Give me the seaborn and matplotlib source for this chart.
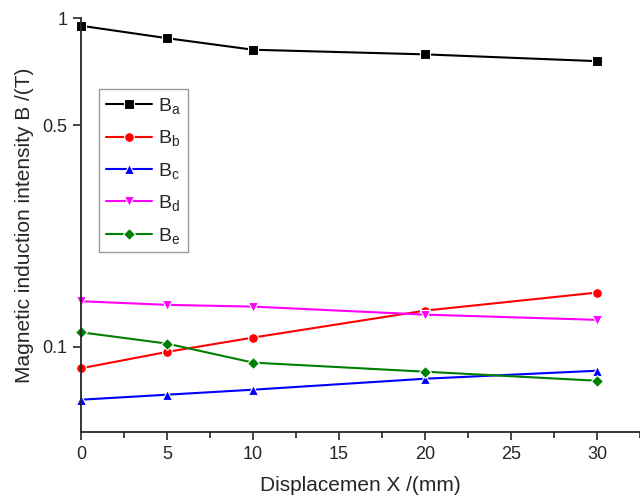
import numpy as np
import pandas as pd
import matplotlib
matplotlib.use("Agg")
import matplotlib.pyplot as plt
import seaborn as sns
from matplotlib.ticker import FixedLocator, FixedFormatter, MultipleLocator

sns.set_style("ticks")
plt.rcParams['font.family'] = ['Liberation Sans', 'DejaVu Sans']
plt.rcParams['mathtext.default'] = 'regular'

x_mm = [0, 5, 10, 20, 30]
B_a = [0.954, 0.881, 0.818, 0.794, 0.760]
B_b = [0.0828, 0.0956, 0.1079, 0.1342, 0.1544]
B_c = [0.0616, 0.0647, 0.0679, 0.0753, 0.0810]
B_d = [0.1444, 0.1404, 0.1385, 0.1300, 0.1247]
B_e = [0.1127, 0.1026, 0.0871, 0.0803, 0.0739]
series_names = ['$B_a$', '$B_b$', '$B_c$', '$B_d$', '$B_e$']
colors = ['#000000', '#ff0000', '#0000ff', '#ff00ff', '#008000']
markers = ['s', 'o', '^', 'v', 'D']
y_ticks = [0.1, 0.5, 1]
y_ticklabels = ['0.1', '0.5', '1']

rows = []
for name, vals in zip(series_names, [B_a, B_b, B_c, B_d, B_e]):
    for xv, yv in zip(x_mm, vals):
        rows.append({'x': xv, 'B': yv, 'series': name})
df = pd.DataFrame(rows)

fig = plt.figure(figsize=(6.4, 4.98), dpi=100)
ax = fig.add_axes([0.1266, 0.1331, 0.8734, 0.830])

C = 0.038
ax.set_yscale('function', functions=(lambda v: np.log(np.clip(v + C, 1e-9, None)),
                                     lambda u: np.exp(u) - C))

sns.lineplot(data=df, x='x', y='B', hue='series', style='series',
             palette=dict(zip(series_names, colors)),
             markers=dict(zip(series_names, markers)),
             dashes=False, linewidth=1.5, markersize=7,
             markeredgewidth=0.8, ax=ax, clip_on=False)
for line, m in zip(ax.get_lines(), markers):
    if m == 'D':
        line.set_markersize(6.5)

ax.set_xlim(0, 32.5)
ax.set_ylim(0.0438, 1.0)
ax.xaxis.set_major_locator(MultipleLocator(5))
ax.xaxis.set_minor_locator(MultipleLocator(2.5))
ax.yaxis.set_major_locator(FixedLocator(y_ticks))
ax.yaxis.set_major_formatter(FixedFormatter(y_ticklabels))
ax.yaxis.set_minor_locator(FixedLocator([]))
ax.tick_params(axis='both', which='major', direction='out', length=6, width=1.2,
               labelsize=13, pad=4)
ax.tick_params(axis='x', which='minor', direction='out', length=4, width=1.2)
for s in ['top', 'right']:
    ax.spines[s].set_visible(False)
for s in ['left', 'bottom']:
    ax.spines[s].set_linewidth(1.3)

ax.set_xlabel('Displacemen X /(mm)', fontsize=15, labelpad=10)
ax.set_ylabel('Magnetic induction intensity B /(T)', fontsize=15, labelpad=6)

handles, labels = ax.get_legend_handles_labels()
leg = ax.legend(handles, labels, loc='upper left', bbox_to_anchor=(0.0322, 0.829),
                frameon=True, fancybox=False, edgecolor='#808080', fontsize=14,
                handlelength=2.4, labelspacing=0.64, borderpad=0.35,
                handletextpad=0.3, borderaxespad=0)
leg.get_frame().set_linewidth(1.0)
for h, m in zip(leg.legend_handles, markers):
    h.set_markersize(6.5 if m == 'D' else 7)
    h.set_linewidth(1.5)

fig.savefig('out.png', dpi=100)
